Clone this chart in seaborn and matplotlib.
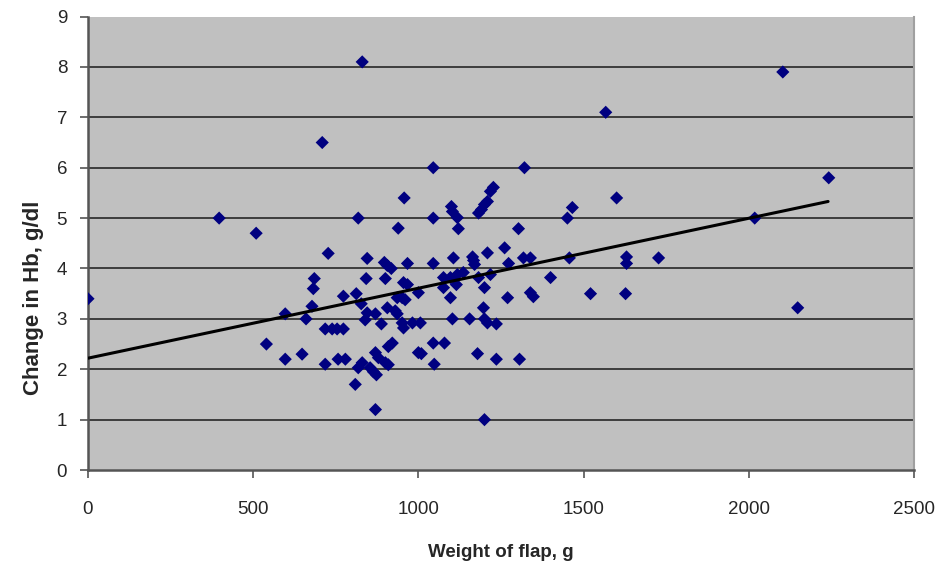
import matplotlib
matplotlib.use('Agg')
import matplotlib.pyplot as plt
import seaborn as sns
import pandas as pd

# flap weight (g) and matching Hb drop (g/dl)
weight = [0, 397, 509, 540, 597, 597, 648, 660, 678, 682,
          685, 709, 718, 727, 718, 739, 754, 773, 757, 779,
          773, 809, 812, 818, 818, 827, 830, 830, 839, 842,
          845, 845, 854, 864, 870, 870, 870, 873, 879, 888,
          897, 900, 900, 906, 906, 909, 909, 918, 921, 930,
          936, 936, 939, 951, 951, 955, 955, 957, 960, 967,
          967, 982, 1000, 1000, 1006, 1009, 1045, 1045, 1045, 1045,
          1048, 1076, 1076, 1079, 1097, 1097, 1100, 1103, 1103, 1106,
          1115, 1118, 1118, 1121, 1136, 1155, 1164, 1167, 1170, 1179,
          1182, 1182, 1191, 1197, 1200, 1200, 1200, 1200, 1209, 1209,
          1209, 1218, 1218, 1227, 1236, 1236, 1261, 1270, 1273, 1303,
          1306, 1318, 1321, 1339, 1339, 1348, 1400, 1451, 1457, 1466,
          1521, 1567, 1600, 1627, 1630, 1630, 1727, 2018, 2103, 2148,
          2242]
hb_change = [3.4, 5.0, 4.7, 2.5, 3.1, 2.2, 2.3, 3.0, 3.25, 3.6,
             3.8, 6.5, 2.1, 4.3, 2.8, 2.8, 2.8, 2.8, 2.2, 2.2,
             3.45, 1.7, 3.5, 5.0, 2.03, 3.3, 8.1, 2.13, 2.98, 3.8,
             4.2, 3.12, 2.03, 1.95, 3.1, 2.33, 1.2, 1.89, 2.23, 2.9,
             4.12, 3.8, 2.13, 4.06, 3.22, 2.45, 2.09, 4.0, 2.52, 3.16,
             3.1, 3.42, 4.8, 3.42, 2.92, 3.72, 2.82, 5.4, 3.38, 3.68,
             4.1, 2.92, 3.52, 2.33, 2.92, 2.31, 6.0, 5.0, 4.1, 2.52,
             2.1, 3.82, 3.62, 2.52, 3.82, 3.42, 5.23, 5.13, 3.0, 4.21,
             3.68, 5.01, 3.88, 4.79, 3.92, 3.0, 4.23, 4.16, 4.08, 2.31,
             5.1, 3.82, 5.17, 3.22, 5.27, 3.62, 3.0, 1.0, 5.33, 4.31,
             2.92, 5.53, 3.88, 5.61, 2.9, 2.2, 4.41, 3.42, 4.1, 4.79,
             2.2, 4.21, 6.0, 4.21, 3.52, 3.44, 3.82, 5.0, 4.21, 5.21,
             3.5, 7.1, 5.4, 3.5, 4.23, 4.1, 4.21, 5.0, 7.9, 3.22,
             5.8]

# linear trend line ends
trend_x = [0, 2240]
trend_y = [2.22, 5.33]

x_ticks = [0, 500, 1000, 1500, 2000, 2500]
y_ticks = [0, 1, 2, 3, 4, 5, 6, 7, 8, 9]

sns.set_style('white')
plt.rcParams['font.family'] = ['Liberation Sans', 'DejaVu Sans']

df = pd.DataFrame({'weight': weight, 'hb': hb_change})

fig = plt.figure(figsize=(9.44, 5.67), dpi=100)
ax = fig.add_axes([0.0932, 0.171, 0.875, 0.7998])
ax.set_facecolor('#c0c0c0')

sns.scatterplot(data=df, x='weight', y='hb', marker='D', s=45,
                color='#000080', edgecolor='none', ax=ax, zorder=3)
sns.lineplot(x=trend_x, y=trend_y, color='black', linewidth=2.2, ax=ax, zorder=4)

ax.set_xlim(0, 2500)
ax.set_ylim(0, 9)
ax.set_xticks(x_ticks)
ax.set_yticks(y_ticks)

ax.yaxis.grid(True, color='#333333', linewidth=1.3)
ax.xaxis.grid(False)
ax.set_axisbelow(True)
gl = ax.get_ygridlines()
gl[0].set_visible(False)
gl[-1].set_visible(False)

for side in ['left', 'bottom']:
    ax.spines[side].set_color('#555555')
    ax.spines[side].set_linewidth(1.8)
ax.spines['top'].set_visible(False)
ax.spines['right'].set_color('#a0a0a0')
ax.spines['right'].set_linewidth(1.5)

ax.tick_params(axis='both', direction='out', length=6, width=1.2,
               color='#555555', labelsize=13.5, left=True, bottom=True)
ax.tick_params(axis='x', pad=16)
ax.tick_params(axis='y', pad=9)

ax.set_xlabel('Weight of flap, g', fontsize=13.5, fontweight='bold', labelpad=19)
ax.set_ylabel('Change in Hb, g/dl', fontsize=16, fontweight='bold')
ax.yaxis.set_label_coords(-0.053, 0.38)

fig.savefig('out.png', dpi=100)
